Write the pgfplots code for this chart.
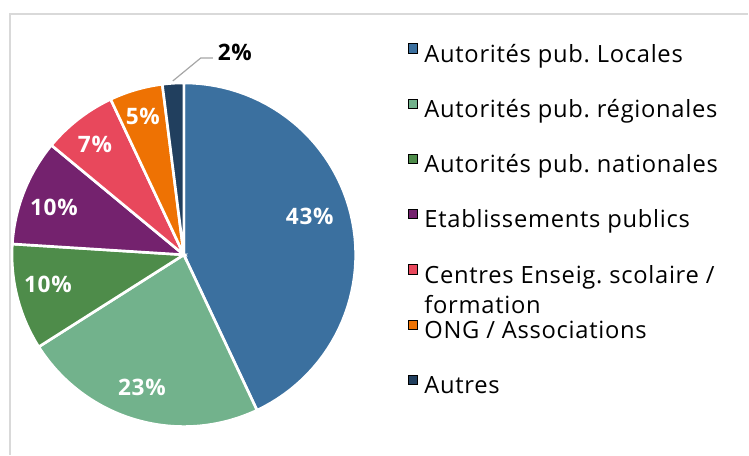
\documentclass[border=0pt]{standalone}
\usepackage{pgfplots}
\pgfplotsset{compat=1.18}
\usepackage{fontspec}
\setmainfont{Open Sans}[LetterSpace=3]
\frenchspacing

\definecolor{cLoc}{HTML}{3B709F}
\definecolor{cReg}{HTML}{72B28C}
\definecolor{cNat}{HTML}{4E8C4A}
\definecolor{cEtab}{HTML}{74226E}
\definecolor{cCent}{HTML}{E8485C}
\definecolor{cOng}{HTML}{EE7203}
\definecolor{cAut}{HTML}{213F5E}

\begin{document}
\begin{tikzpicture}
\begin{axis}[
    width=561.75pt, height=341.25pt, scale only axis,
    xmin=0, xmax=749, ymin=0, ymax=455,
    hide axis, clip=false,
    legend cell align=left,
    legend style={at={(axis cs:408,412)}, anchor=north west, draw=none, fill=none,
        inner sep=0pt, row sep=23.8pt, column sep=5pt,
        font=\fontsize{17.8}{23}\selectfont,
        nodes={inner sep=0pt, text height=12.5pt, text depth=3.5pt}},
    legend image code/.code={\fill (0pt,2.5pt) rectangle (7pt,9.5pt);},
    slice/.style={forget plot, draw=white, line width=2pt, samples=60},
]
% keep the whole canvas in the bounding box
\path (axis cs:0,0) rectangle (axis cs:749,455);

% frame of the chart area (top and left edges visible)
\addplot[forget plot, color=black!15, line width=1pt] coordinates {(10,0) (10,441) (749,441)};

% pie slices, domain = cumulative shares in percent (43, 23, 10, 10, 7, 5, 2)
\addplot[slice, fill=cLoc,  domain=0:43]  ({184+172*sin(3.6*x)},{200+172*cos(3.6*x)}) -- (184,200) -- cycle;
\addplot[slice, fill=cReg,  domain=43:66] ({184+172*sin(3.6*x)},{200+172*cos(3.6*x)}) -- (184,200) -- cycle;
\addplot[slice, fill=cNat,  domain=66:76] ({184+172*sin(3.6*x)},{200+172*cos(3.6*x)}) -- (184,200) -- cycle;
\addplot[slice, fill=cEtab, domain=76:86] ({184+172*sin(3.6*x)},{200+172*cos(3.6*x)}) -- (184,200) -- cycle;
\addplot[slice, fill=cCent, domain=86:93] ({184+172*sin(3.6*x)},{200+172*cos(3.6*x)}) -- (184,200) -- cycle;
\addplot[slice, fill=cOng,  domain=93:98] ({184+172*sin(3.6*x)},{200+172*cos(3.6*x)}) -- (184,200) -- cycle;
\addplot[slice, fill=cAut,  domain=98:100] ({184+172*sin(3.6*x)},{200+172*cos(3.6*x)}) -- (184,200) -- cycle;

% leader line for the small slice
\addplot[forget plot, color=black!35, line width=0.9pt] coordinates {(173,374) (201,397) (213,397)};

% data labels
\begin{scope}[every node/.style={font=\bfseries\fontsize{17}{20}\selectfont, text=white}]
\node at (axis cs:310,238) {43\%};
\node at (axis cs:142,67) {23\%};
\node at (axis cs:48,170) {10\%};
\node at (axis cs:54,247) {10\%};
\node at (axis cs:95,310) {7\%};
\node at (axis cs:143,338) {5\%};
\node[text=black] at (axis cs:235,403) {2\%};
\end{scope}

% legend
\addlegendimage{fill=cLoc}  \addlegendentry{Autorités pub. Locales}
\addlegendimage{fill=cReg}  \addlegendentry{Autorités pub. régionales}
\addlegendimage{fill=cNat}  \addlegendentry{Autorités pub. nationales}
\addlegendimage{fill=cEtab} \addlegendentry{Etablissements publics}
\addlegendimage{fill=cCent} \addlegendentry{\smash{\begin{tabular}[t]{@{}l@{}}Centres Enseig. scolaire /\\formation\end{tabular}}}
\addlegendimage{fill=cOng}  \addlegendentry{ONG / Associations}
\addlegendimage{fill=cAut}  \addlegendentry{Autres}
\end{axis}
\end{tikzpicture}
\end{document}
